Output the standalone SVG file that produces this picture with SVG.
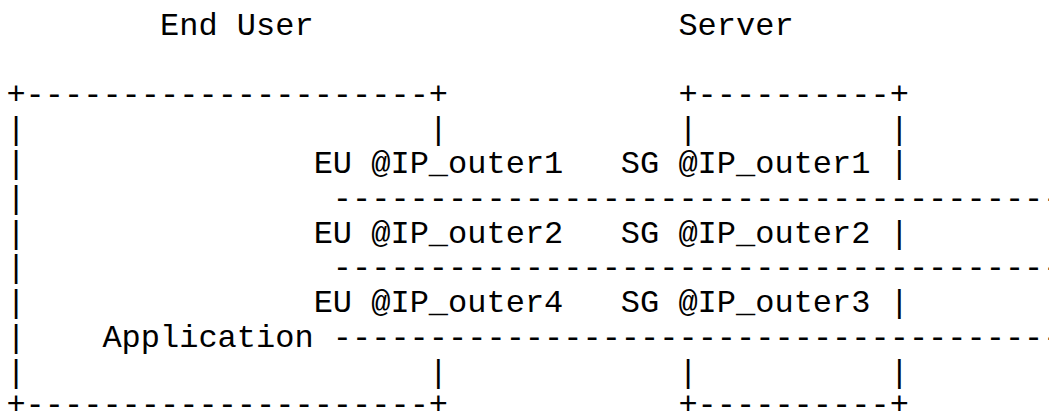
<svg xmlns="http://www.w3.org/2000/svg" width="1049" height="412" viewBox="0 0 1049 412">
<style>
text{font-family:"Liberation Mono","Courier New",monospace;font-size:32px;fill:#000;white-space:pre}
</style>
<rect width="1049" height="412" fill="#fff"/>
<g id="titles">
<text x="160" y="34.5">End User</text>
<text x="678.4" y="34.5">Server</text>
</g>
<g id="end-user">
<text x="6.4" y="103.9" xml:space="preserve">+---------------------+</text>
<text x="6.4" y="138.6" xml:space="preserve">|                     |</text>
<text x="6.4" y="173.3" xml:space="preserve">|               EU @IP_outer1</text>
<text x="6.4" y="208">|</text>
<text x="6.4" y="242.7" xml:space="preserve">|               EU @IP_outer2</text>
<text x="6.4" y="277.4">|</text>
<text x="6.4" y="312.1" xml:space="preserve">|               EU @IP_outer4</text>
<text x="6.4" y="346.8">|</text>
<text x="102.4" y="346.8">Application</text>
<text x="6.4" y="381.5" xml:space="preserve">|                     |</text>
<text x="6.4" y="414" xml:space="preserve">+---------------------+</text>
</g>
<g id="server">
<text x="678.4" y="103.9" xml:space="preserve">+----------+</text>
<text x="678.4" y="138.6" xml:space="preserve">|          |</text>
<text x="620.8" y="173.3" xml:space="preserve">SG @IP_outer1 |</text>
<text x="620.8" y="242.7" xml:space="preserve">SG @IP_outer2 |</text>
<text x="620.8" y="312.1" xml:space="preserve">SG @IP_outer3 |</text>
<text x="678.4" y="381.5" xml:space="preserve">|          |</text>
<text x="678.4" y="414" xml:space="preserve">+----------+</text>
</g>
<g id="connectors">
<text x="332.8" y="208">---------------------------------------</text>
<text x="332.8" y="277.4">---------------------------------------</text>
<text x="332.8" y="346.8">---------------------------------------</text>
</g>
</svg>
